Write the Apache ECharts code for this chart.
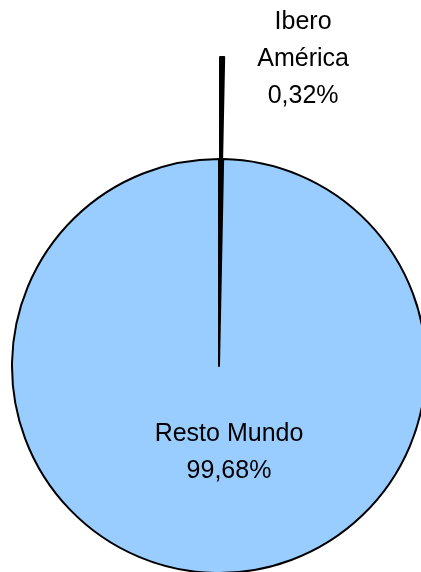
<!DOCTYPE html>
<html>
<head>
<meta charset="utf-8">
<script src="https://cdn.jsdelivr.net/npm/echarts@6/dist/echarts.min.js"></script>
<style>html,body{margin:0;padding:0;background:#fff}#c{width:421px;height:572px}</style>
</head>
<body>
<div id="c"></div>
<script>
var categories = ['Ibero\nAmérica', 'Resto Mundo'];
var values = [0.32, 99.68];
var colors = ['#000000', '#99CCFF'];

var chart = echarts.init(document.getElementById('c'), null, {renderer: 'canvas'});
var data = categories.map(function (c, i) {
  var item = {
    name: c,
    value: values[i],
    selected: i === 0,
    itemStyle: {color: colors[i]}
  };
  if (i === 0) {
    item.label = {offset: [82, -98]};
    item.select = {label: {offset: [82, -98]}, itemStyle: {color: colors[i]}};
  }
  return item;
});
chart.setOption({
  backgroundColor: '#ffffff',
  animation: false,
  series: [{
    type: 'pie',
    center: [219, 366],
    radius: [0, 207],
    startAngle: 90,
    clockwise: true,
    selectedMode: 'single',
    selectedOffset: 102,
    avoidLabelOverlap: false,
    itemStyle: {borderColor: '#000', borderWidth: 2},
    select: {itemStyle: {borderColor: '#000', borderWidth: 2}},
    emphasis: {disabled: true},
    labelLine: {show: false},
    label: {
      show: true,
      position: 'inside',
      fontFamily: 'Liberation Sans, Arial, sans-serif',
      fontSize: 25,
      lineHeight: 37,
      color: '#000',
      align: 'center',
      formatter: function (p) {
        return p.name + '\n' + p.value.toFixed(2).replace('.', ',') + '%';
      }
    },
    labelLayout: function (p) {
      if (p.dataIndex === 1) {
        return {x: 229, y: 453, align: 'center', verticalAlign: 'middle'};
      }
    },
    data: data
  }]
});
</script>
</body>
</html>
